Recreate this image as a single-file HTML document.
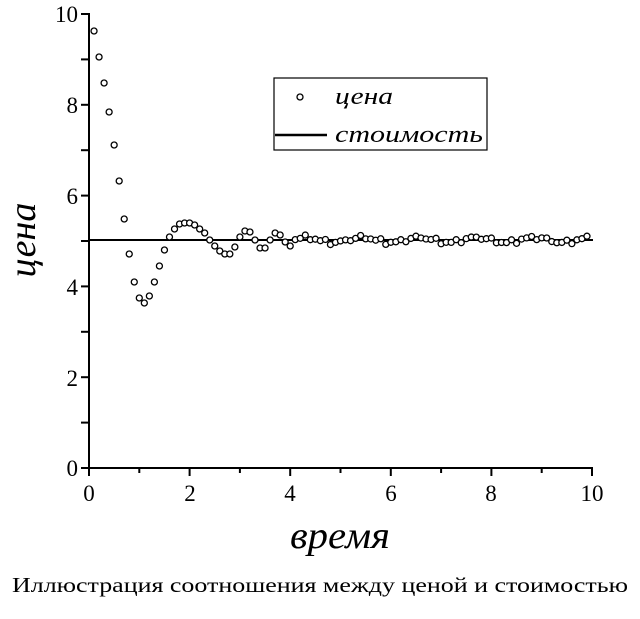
<!DOCTYPE html>
<html><head><meta charset="utf-8"><style>
html,body{margin:0;padding:0;background:#fff;}
svg{display:block;}
svg text{font-family:"Liberation Serif","Times New Roman",Times,"Nimbus Roman",serif;fill:#000;}
</style></head><body>
<svg id="s" width="640" height="619" viewBox="0 0 640 619" xmlns="http://www.w3.org/2000/svg">
<g stroke="#000" stroke-width="2" fill="none">
<line x1="89" y1="13" x2="89" y2="468"/>
<line x1="88" y1="468" x2="593" y2="468"/>
<line x1="89" y1="240" x2="593" y2="240"/>
</g>
<g id="ticks" stroke="#000" stroke-width="2"></g>
<g font-size="23" text-anchor="end">
<text x="78" y="22">10</text><text x="78" y="113">8</text><text x="78" y="204">6</text>
<text x="78" y="295">4</text><text x="78" y="386">2</text><text x="78" y="476">0</text>
</g>
<g font-size="23" text-anchor="middle">
<text x="89" y="501">0</text><text x="190" y="501">2</text><text x="290" y="501">4</text>
<text x="391" y="501">6</text><text x="491" y="501">8</text><text x="592" y="501">10</text>
</g>
<text x="290" y="548" font-size="38" font-style="italic" textLength="100" lengthAdjust="spacingAndGlyphs">время</text>
<text transform="translate(35,240) rotate(-90)" font-size="38" font-style="italic" text-anchor="middle">цена</text>
<text x="320" y="592" font-size="21" text-anchor="middle" textLength="616" lengthAdjust="spacingAndGlyphs">Иллюстрация соотношения между ценой и стоимостью</text>
<rect x="274" y="78" width="213" height="72" fill="#fff" stroke="#000" stroke-width="1.2"/>
<circle cx="300" cy="97" r="3" fill="#fff" stroke="#000" stroke-width="1.3"/>
<line x1="275" y1="135" x2="327" y2="135" stroke="#000" stroke-width="2.5"/>
<text x="335" y="104" font-size="24" font-style="italic" textLength="58" lengthAdjust="spacingAndGlyphs">цена</text>
<text x="335" y="142" font-size="24" font-style="italic" textLength="148" lengthAdjust="spacingAndGlyphs">стоимость</text>
<g id="pts" fill="#fff" stroke="#000" stroke-width="1.3"></g>
</svg>
<script>
var ns="http://www.w3.org/2000/svg";
var t=document.getElementById("ticks");
function ln(a,b,c,d){var l=document.createElementNS(ns,"line");l.setAttribute("x1",a);l.setAttribute("y1",b);l.setAttribute("x2",c);l.setAttribute("y2",d);t.appendChild(l);}
for(var i=0;i<=10;i++){var y=468-i*45.4;ln(81,y,89,y);var x=89+i*50.3;ln(x,468,x,i%2?473:476);}
var py=[31,57,83,112,145,181,219,254,282,298,303,296,282,266,250,237,229,224,223,223,225,229,233,240,246,251,254,254,247,237,231,232,240,248,248,240,233,235,242,246];
var g=document.getElementById("pts");
for(var k=1;k<=99;k++){
 var x=89+k*5.03,y;
 if(k<=py.length)y=py[k-1];
 else y=240+2.5*Math.sin(k*0.55)+1.5*Math.sin(k*1.7+1)+1.2*Math.sin(k*2.9);
 var c=document.createElementNS(ns,"circle");c.setAttribute("cx",x);c.setAttribute("cy",y);c.setAttribute("r",3);g.appendChild(c);
}
</script>
</body></html>
